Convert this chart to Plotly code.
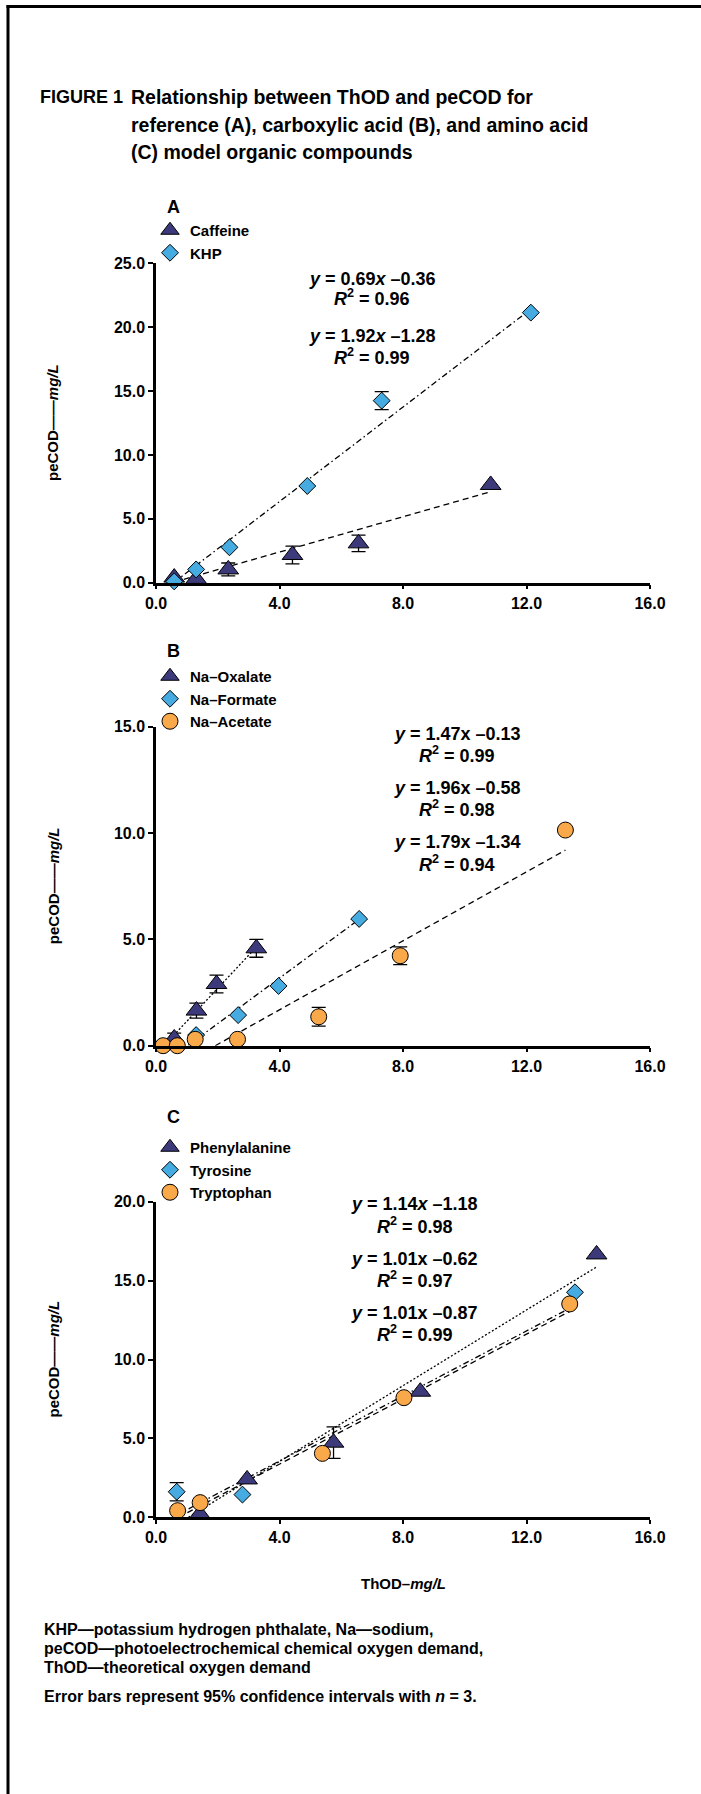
import numpy as np
import plotly.graph_objects as go

W, H = 701, 1794
FONT = "Liberation Sans, Arial, Helvetica, sans-serif"

# ---------------- data ----------------
# Panel A (reference compounds)
a_caffeine_x = [0.59, 1.30, 2.34, 4.42, 6.56, 10.84]
a_caffeine_y = [0.40, 0.30, 1.04, 2.17, 3.08, 7.65]
a_caffeine_err = [0, 0, 0.5, 0.7, 0.65, 0]
a_khp_x = [0.59, 1.30, 2.38, 4.90, 7.31, 12.14]
a_khp_y = [0.10, 1.04, 2.77, 7.57, 14.25, 21.14]
a_khp_err = [0, 0, 0, 0, 0.7, 0]

# Panel B (carboxylic acids)
b_oxalate_x = [0.59, 1.31, 1.96, 3.25]
b_oxalate_y = [0.34, 1.65, 2.90, 4.58]
b_oxalate_err = [0.25, 0.35, 0.42, 0.42]
b_formate_x = [1.30, 2.66, 3.97, 6.58]
b_formate_y = [0.50, 1.44, 2.81, 5.96]
b_formate_err = [0, 0, 0, 0]
b_acetate_x = [0.23, 0.69, 1.27, 2.64, 5.27, 7.91, 13.26]
b_acetate_y = [0.0, 0.0, 0.30, 0.30, 1.36, 4.23, 10.14]
b_acetate_err = [0, 0, 0, 0, 0.44, 0.42, 0]

# Panel C (amino acids)
c_phe_x = [1.42, 2.95, 5.75, 8.56, 14.27]
c_phe_y = [0.21, 2.40, 4.73, 7.96, 16.66]
c_phe_err = [0, 0, 1.0, 0, 0]
c_tyr_x = [0.67, 2.80, 13.57]
c_tyr_y = [1.62, 1.44, 14.26]
c_tyr_err = [0.58, 0, 0]
c_trp_x = [0.70, 1.43, 5.39, 8.03, 13.40]
c_trp_y = [0.42, 0.93, 4.05, 7.58, 13.52]
c_trp_err = [0, 0, 0, 0, 0]

# trend lines as drawn: slope, intercept, x start, x end
trend_a_caffeine = [0.69, -0.36, 0.59, 10.84]
trend_a_khp = [1.85, -1.05, 0.59, 12.14]
trend_b_oxalate = [1.55, -0.40, 0.30, 3.25]
trend_b_formate = [1.07, -1.10, 1.05, 6.58]
trend_b_acetate = [0.811, -1.557, 1.92, 13.26]
trend_c_phe = [1.20, -1.26, 1.05, 14.27]
trend_c_tyr = [1.03, -0.55, 0.67, 13.57]
trend_c_trp = [1.03, -0.75, 0.73, 13.40]

# equation labels
eq_a = ["<i>y</i> = 0.69<i>x</i> –0.36", "<i>R</i><sup>2</sup> = 0.96",
        "<i>y</i> = 1.92<i>x</i> –1.28", "<i>R</i><sup>2</sup> = 0.99"]
eq_b = ["<i>y</i> = 1.47x –0.13", "<i>R</i><sup>2</sup> = 0.99",
        "<i>y</i> = 1.96x –0.58", "<i>R</i><sup>2</sup> = 0.98",
        "<i>y</i> = 1.79x –1.34", "<i>R</i><sup>2</sup> = 0.94"]
eq_c = ["<i>y</i> = 1.14<i>x</i> –1.18", "<i>R</i><sup>2</sup> = 0.98",
        "<i>y</i> = 1.01x –0.62", "<i>R</i><sup>2</sup> = 0.97",
        "<i>y</i> = 1.01x –0.87", "<i>R</i><sup>2</sup> = 0.99"]

x_ticks = [0, 4, 8, 12, 16]

NAVY = "#3d3a7c"
BLUE = "#45abe0"
ORANGE = "#f9a84a"

# ---------------- geometry (pixels) ----------------
X0, X1 = 156, 650
panels = {
    "A": (263.3, 582.7, 25, 5),
    "B": (726.7, 1045.7, 15, 5),
    "C": (1201.7, 1517.3, 20, 5),
}

def py(p):
    return 1 - p / H

def px(p):
    return p / W

fig = go.Figure()

def add_points(name, xs, ys, err, sym, size, color, xa, ya, leg):
    fig.add_trace(go.Scatter(
        x=xs, y=ys, mode="markers", name=name, xaxis=xa, yaxis=ya, legend=leg,
        cliponaxis=False,
        marker=dict(symbol=sym, size=size, color=color, line=dict(color="black", width=1)),
        error_y=dict(type="data", array=err, visible=True, color="black", thickness=1.3, width=7),
    ))

def add_trend(tr, dash, xa, ya):
    m, b, xs, xe = tr
    xx = np.array([xs, xe])
    fig.add_trace(go.Scatter(
        x=xx, y=m * xx + b, mode="lines", showlegend=False, xaxis=xa, yaxis=ya,
        cliponaxis=False, hoverinfo="skip",
        line=dict(color="black", width=1.3, dash=dash),
    ))

DASH = "6px,4px"
DASHDOT = "6px,3px,1.5px,3px"
DOT = "2px,2px"

# Panel A
add_trend(trend_a_caffeine, DASH, "x", "y")
add_trend(trend_a_khp, DASHDOT, "x", "y")
add_points("Caffeine", a_caffeine_x, a_caffeine_y, a_caffeine_err, "triangle-up", 18, NAVY, "x", "y", "legend")
add_points("KHP", a_khp_x, a_khp_y, a_khp_err, "diamond", 13, BLUE, "x", "y", "legend")

# Panel B
add_trend(trend_b_oxalate, DOT, "x2", "y2")
add_trend(trend_b_formate, DASHDOT, "x2", "y2")
add_trend(trend_b_acetate, DASH, "x2", "y2")
add_points("Na–Oxalate", b_oxalate_x, b_oxalate_y, b_oxalate_err, "triangle-up", 18, NAVY, "x2", "y2", "legend2")
add_points("Na–Formate", b_formate_x, b_formate_y, b_formate_err, "diamond", 13, BLUE, "x2", "y2", "legend2")
add_points("Na–Acetate", b_acetate_x, b_acetate_y, b_acetate_err, "circle", 16, ORANGE, "x2", "y2", "legend2")

# Panel C
add_trend(trend_c_phe, DOT, "x3", "y3")
add_trend(trend_c_tyr, DASHDOT, "x3", "y3")
add_trend(trend_c_trp, DASH, "x3", "y3")
add_points("Phenylalanine", c_phe_x, c_phe_y, c_phe_err, "triangle-up", 18, NAVY, "x3", "y3", "legend3")
add_points("Tyrosine", c_tyr_x, c_tyr_y, c_tyr_err, "diamond", 13, BLUE, "x3", "y3", "legend3")
add_points("Tryptophan", c_trp_x, c_trp_y, c_trp_err, "circle", 16, ORANGE, "x3", "y3", "legend3")

tickfont = dict(family=FONT, size=16, color="black", weight="bold")

def xaxis(anchor):
    return dict(domain=[px(X0), px(X1)], range=[0, 16], tickvals=x_ticks,
                ticktext=[f"{v:.1f}" for v in x_ticks], anchor=anchor, automargin=False,
                showline=True, linecolor="black", linewidth=2.5, ticks="outside",
                ticklen=4, tickwidth=2, tickcolor="black", showgrid=False, zeroline=False,
                tickfont=tickfont, fixedrange=True)

def yaxis(anchor, top, bot, ymax, step):
    vals = list(np.arange(0, ymax + 0.01, step))
    return dict(domain=[py(bot), py(top)], range=[0, ymax], tickvals=vals,
                ticktext=[f"{v:.1f}" for v in vals], anchor=anchor, automargin=False,
                showline=True, linecolor="black", linewidth=2.5, ticks="outside",
                ticklen=5, tickwidth=2, tickcolor="black", showgrid=False, zeroline=False,
                tickfont=tickfont, fixedrange=True)

annotations = []

def ann(text, x, y, size, xanchor="center", yanchor="middle", xref="paper", yref="paper",
        angle=0, family=FONT):
    annotations.append(dict(text=text, x=x, y=y, xref=xref, yref=yref, xanchor=xanchor,
                            yanchor=yanchor, showarrow=False, textangle=angle,
                            font=dict(family=family, size=size, color="black", weight="bold")))

# title
ann("FIGURE 1", px(38), py(97), 18, xanchor="left")
for i, line in enumerate(["Relationship between ThOD and peCOD for",
                          "reference (A), carboxylic acid (B), and amino acid",
                          "(C) model organic compounds"]):
    ann(line, px(129), py(97 + 27.5 * i), 19.5, xanchor="left")

# panel letters
ann("A", px(173), py(207), 18)
ann("B", px(173), py(651), 18)
ann("C", px(173), py(1117), 18)

# equations (data coords)
for txt, yv in zip(eq_a, [23.8, 22.3, 19.3, 17.7]):
    ann(txt, 7.0, yv, 18, xref="x", yref="y")
for txt, yv in zip(eq_b, [14.66, 13.71, 12.1, 11.16, 9.56, 8.57]):
    ann(txt, 9.75, yv, 18, xref="x2", yref="y2")
for txt, yv in zip(eq_c, [19.85, 18.52, 16.37, 15.04, 12.92, 11.66]):
    ann(txt, 8.38, yv, 18, xref="x3", yref="y3")

# axis titles
for key in ["A", "B", "C"]:
    top, bot, _, _ = panels[key]
    ann("peCOD——<i>mg/L</i>", px(53), py((top + bot) / 2), 15, angle=-90)
ann("ThOD–<i>mg/L</i>", px((X0 + X1) / 2), py(1583), 15)

# footnotes
for txt, yv in zip(["KHP—potassium hydrogen phthalate, Na—sodium,",
                    "peCOD—photoelectrochemical chemical oxygen demand,",
                    "ThOD—theoretical oxygen demand",
                    "Error bars represent 95% confidence intervals with <i>n</i> = 3."],
                   [1629, 1648, 1667, 1696]):
    ann(txt, px(42), py(yv), 16, xanchor="left")

legfont = dict(family=FONT, size=15, color="black", weight="bold")

def legend(top):
    return dict(x=px(150), xanchor="left", y=py(top), yanchor="top", font=legfont,
                bgcolor="rgba(0,0,0,0)", borderwidth=0, tracegroupgap=0, itemwidth=30)

A_, B_, C_ = panels["A"], panels["B"], panels["C"]
fig.update_layout(
    template="none",
    width=W, height=H, autosize=False,
    margin=dict(l=0, r=0, t=0, b=0, pad=0),
    paper_bgcolor="white", plot_bgcolor="rgba(0,0,0,0)",
    xaxis=xaxis("y"), yaxis=yaxis("x", A_[0], A_[1], A_[2], A_[3]),
    xaxis2=xaxis("y2"), yaxis2=yaxis("x2", B_[0], B_[1], B_[2], B_[3]),
    xaxis3=xaxis("y3"), yaxis3=yaxis("x3", C_[0], C_[1], C_[2], C_[3]),
    legend=legend(214), legend2=legend(660), legend3=legend(1131),
    annotations=annotations,
    shapes=[
        dict(type="line", xref="paper", yref="paper", x0=px(6.5), x1=1, y0=py(6.5), y1=py(6.5),
             line=dict(color="black", width=3)),
        dict(type="line", xref="paper", yref="paper", x0=px(8), x1=px(8), y0=py(5), y1=0,
             line=dict(color="black", width=3)),
    ],
)

fig.write_html("out.html")
